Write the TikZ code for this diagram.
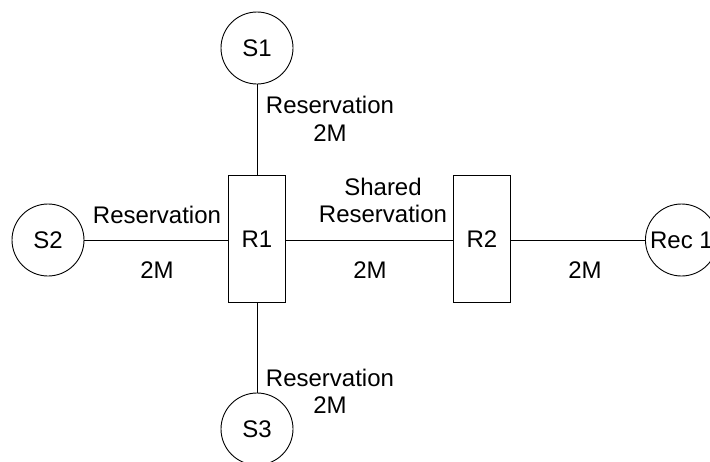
\documentclass[tikz,border=0pt]{standalone}
\usepackage{fontspec}
\setmainfont{Liberation Sans}
\begin{document}
\begin{tikzpicture}[x=1pt,y=-1pt,
  every node/.style={font=\fontsize{24}{27}\selectfont, text=black},
  host/.style={draw, circle, minimum size=72pt, inner sep=0pt, line width=0.9pt},
  router/.style={draw, rectangle, minimum width=57pt, minimum height=127pt, inner sep=0pt, line width=0.9pt},
  link/.style={line width=0.9pt},
  lbl/.style={align=center, inner sep=0pt}]
\useasboundingbox (0,0) rectangle (710,461);
\clip (0,0) rectangle (710,461);
\node[host] (s1) at (257,48) {S1};
\node[host] (s2) at (48,240) {S2};
\node[host] (s3) at (257,429) {S3};
\node[router] (r1) at (257,239) {R1};
\node[router] (r2) at (482,239) {R2};
\node[host, anchor=west] (rec) at (645,240) {Rec 1};
\draw[link] (s1) -- (r1);
\draw[link] (r1) -- (s3);
\draw[link] (s2.east) -- (s2.east -| r1.west);
\draw[link] (r1.east |- s2.east) -- (r2.west |- s2.east);
\draw[link] (r2.east |- s2.east) -- (rec.west);
\node[lbl] (l1) at (330,105) {Reservation};
\node[lbl] (l1b) at (330,133) {2M};
\node[lbl] (l2) at (157,215) {Reservation};
\node[lbl] (l2b) at (157,270) {2M};
\node[lbl] (l3) at (383,187) {Shared};
\node[lbl] (l3a) at (383,214) {Reservation};
\node[lbl] (l3b) at (370,270) {2M};
\node[lbl] (l4) at (585,270) {2M};
\node[lbl] (l5) at (330,378) {Reservation};
\node[lbl] (l5b) at (330,405) {2M};
\end{tikzpicture}
\end{document}
